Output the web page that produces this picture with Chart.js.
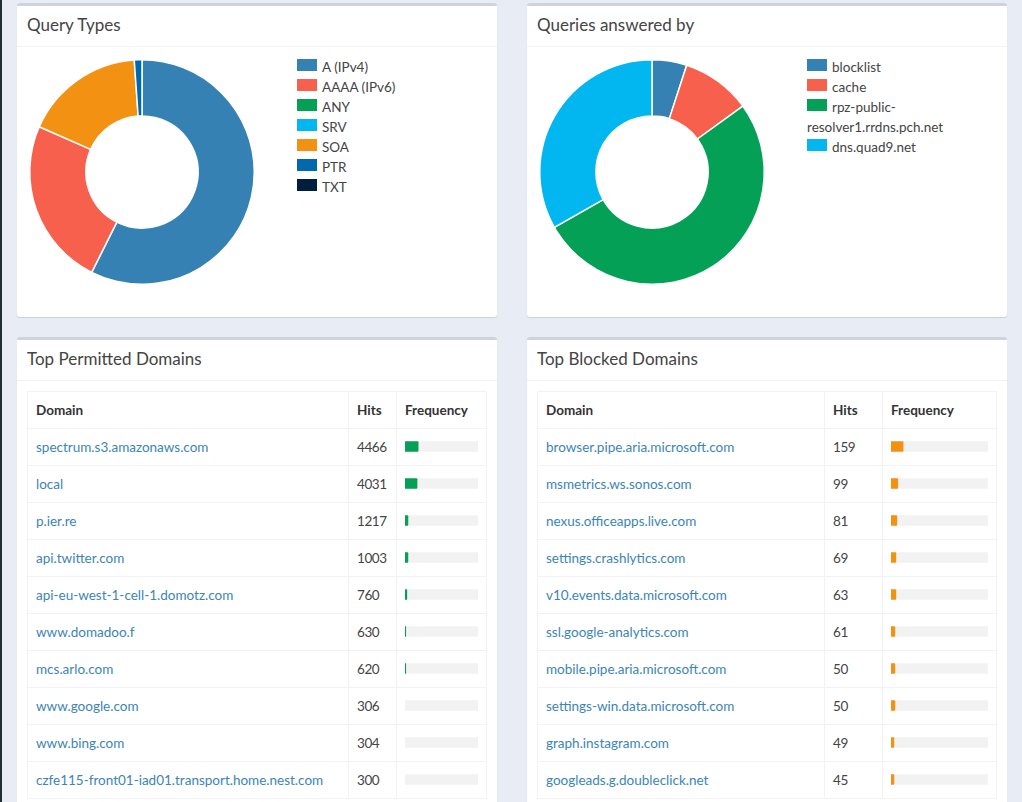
<!DOCTYPE html>
<html lang="en">
<head>
<meta charset="UTF-8">
<title>Pi-hole stats</title>
<script src="https://cdn.jsdelivr.net/npm/chart.js@4.4.0/dist/chart.umd.min.js"></script>
<style>
*{box-sizing:border-box;margin:0;padding:0}
html,body{width:1022px;height:802px;overflow:hidden}
body{font-family:"Lato",sans-serif;font-size:13.5px;color:#444;background:#e8edf5;position:relative}
.side{position:absolute;left:0;top:0;width:2px;height:802px;background:#222d32}
.box{position:absolute;width:480px;background:#fff;border-top:3px solid #d0d3dd;border-radius:3px;box-shadow:0 1px 1px rgba(0,0,0,.12)}
.box h3{font-size:17px;font-weight:400;height:41px;line-height:37px;padding-left:10px;border-bottom:1px solid #f2f2f2}
.box.tall h3{line-height:38px}
.pie{position:absolute;left:0;top:41px;width:250px;height:250px}
.legend{position:absolute;left:280px;top:51px;width:170px;list-style:none;line-height:20px}
.legend i{display:inline-block;width:20px;height:12px;margin-right:5px;vertical-align:1px}
table{position:absolute;left:10px;top:51px;width:460px;border-collapse:collapse;table-layout:fixed}
th,td{border:1px solid #f2f2f2;padding:0 0 0 8px;text-align:left;height:37px}
th{color:#333;font-weight:700}
td a{color:#3c85b5;text-decoration:none}
td.hits{letter-spacing:-.4px}
.bars{position:absolute}
</style>
</head>
<body>
<div class="side"></div>

<div class="box" style="left:17px;top:3px;height:314px">
  <h3>Query Types</h3>
  <div class="pie"><canvas id="typesChart"></canvas></div>
  <ul class="legend" id="typesLegend"></ul>
</div>
<div class="box" style="left:527px;top:3px;height:314px">
  <h3>Queries answered by</h3>
  <div class="pie"><canvas id="answeredChart"></canvas></div>
  <ul class="legend" id="answeredLegend"></ul>
</div>

<div class="box tall" style="left:17px;top:337px;height:480px">
  <h3>Top Permitted Domains</h3>
  <table id="permittedTable"><colgroup><col style="width:321px"><col style="width:48px"><col></colgroup></table>
  <div class="bars" style="left:388px;top:88px;width:73px;height:370px"><canvas id="permittedBars"></canvas></div>
</div>
<div class="box tall" style="left:527px;top:337px;height:480px">
  <h3>Top Blocked Domains</h3>
  <table id="blockedTable"><colgroup><col style="width:287px"><col style="width:58px"><col></colgroup></table>
  <div class="bars" style="left:364px;top:88px;width:97px;height:370px"><canvas id="blockedBars"></canvas></div>
</div>

<script>
const palette = ["#3581b4", "#f7604d", "#03a055", "#02b6f0", "#f39212", "#0069ad", "#001f3f"];

const typeLabels = ["A (IPv4)", "AAAA (IPv6)", "ANY", "SRV", "SOA", "PTR", "TXT"];
const typeValues = [57.4, 24.2, 0, 0, 17.3, 1.1, 0];

const answeredLabels = ["blocklist", "cache", "rpz-public-resolver1.rrdns.pch.net", "dns.quad9.net"];
const answeredValues = [5, 10, 51.8, 33.2];

const permittedDomains = ["spectrum.s3.amazonaws.com", "local", "p.ier.re", "api.twitter.com", "api-eu-west-1-cell-1.domotz.com", "www.domadoo.f", "mcs.arlo.com", "www.google.com", "www.bing.com", "czfe115-front01-iad01.transport.home.nest.com"];
const permittedHits = [4466, 4031, 1217, 1003, 760, 630, 620, 306, 304, 300];
const permittedFreq = [18, 16.5, 4, 4, 2.5, 1, 1, 0, 0, 0];

const blockedDomains = ["browser.pipe.aria.microsoft.com", "msmetrics.ws.sonos.com", "nexus.officeapps.live.com", "settings.crashlytics.com", "v10.events.data.microsoft.com", "ssl.google-analytics.com", "mobile.pipe.aria.microsoft.com", "settings-win.data.microsoft.com", "graph.instagram.com", "googleads.g.doubleclick.net"];
const blockedHits = [159, 99, 81, 69, 63, 61, 50, 50, 49, 45];
const blockedFreq = [12.5, 7, 6, 5, 5, 4, 4, 4, 3, 3];

Chart.defaults.animation = false;
Chart.defaults.responsive = true;
Chart.defaults.maintainAspectRatio = false;

function doughnut(id, legendId, labels, values) {
  new Chart(document.getElementById(id), {
    type: "doughnut",
    data: { labels, datasets: [{ data: values, backgroundColor: palette.slice(0, labels.length), borderColor: "#fff", borderWidth: 1.5 }] },
    options: {
      cutout: "50%",
      layout: { padding: 12 },
      plugins: { legend: { display: false }, tooltip: { enabled: false } }
    }
  });
  document.getElementById(legendId).innerHTML = labels.map((l, i) =>
    `<li><i style="background:${palette[i]}"></i>${l.replace("public-resolver", "public-<br>resolver")}</li>`).join("");
}

function domainTable(id, domains, hits) {
  const head = "<tr><th>Domain</th><th>Hits</th><th>Frequency</th></tr>";
  const body = domains.map((d, i) => `<tr><td><a>${d}</a></td><td class="hits">${hits[i]}</td><td></td></tr>`).join("");
  document.getElementById(id).insertAdjacentHTML("beforeend", head + body);
}

// one horizontal bar chart per table, each band lines up with a table row
function freqBars(id, domains, freq, color) {
  new Chart(document.getElementById(id), {
    type: "bar",
    data: {
      labels: domains,
      datasets: [
        { data: freq.map(v => v || null), backgroundColor: color, barThickness: 10, borderRadius: 1, order: 0 },
        { data: domains.map(() => 100), backgroundColor: "#f2f2f2", barThickness: 10, order: 1 }
      ]
    },
    options: {
      indexAxis: "y",
      layout: { padding: 0 },
      datasets: { bar: { grouped: false } },
      scales: { x: { display: false, min: 0, max: 100 }, y: { display: false } },
      plugins: { legend: { display: false }, tooltip: { enabled: false } }
    }
  });
}

doughnut("typesChart", "typesLegend", typeLabels, typeValues);
doughnut("answeredChart", "answeredLegend", answeredLabels, answeredValues);
domainTable("permittedTable", permittedDomains, permittedHits);
domainTable("blockedTable", blockedDomains, blockedHits);
freqBars("permittedBars", permittedDomains, permittedFreq, "#03a055");
freqBars("blockedBars", blockedDomains, blockedFreq, "#f39212");
</script>
</body>
</html>
